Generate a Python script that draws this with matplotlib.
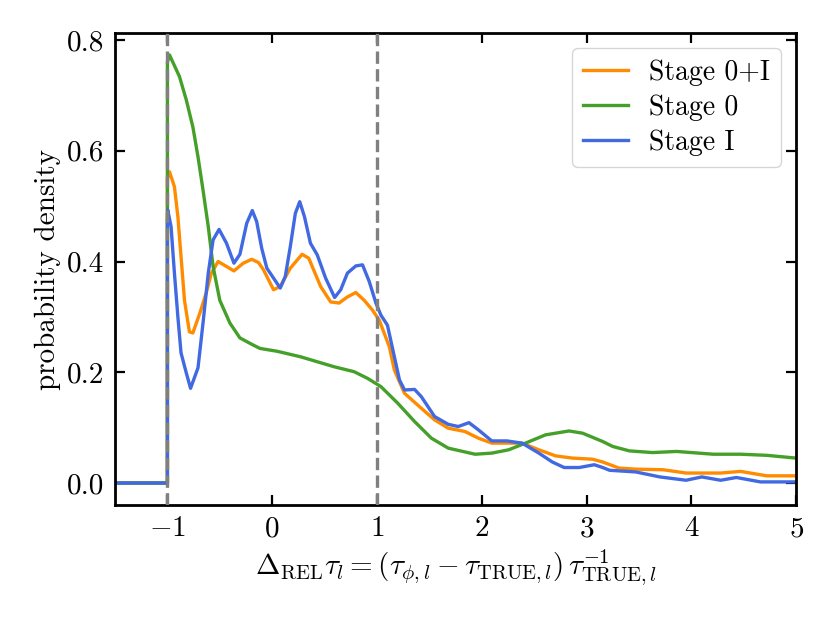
import matplotlib
matplotlib.use("Agg")
import matplotlib.pyplot as plt
import matplotlib.ticker as mticker

plt.rcParams['font.family'] = 'serif'
plt.rcParams['font.serif'] = ['cmr10']
plt.rcParams['mathtext.fontset'] = 'cm'
plt.rcParams['axes.formatter.use_mathtext'] = True
plt.rcParams['font.size'] = 21

labels = ["Stage 0+I", "Stage 0", "Stage I"]
colors = ["#ff8c00", "#45a02a", "#4169e1"]

x_orange = [-1.5, -1.0, -1.0, -0.98, -0.933, -0.9, -0.87, -0.837, -0.79, -0.757, -0.69, -0.63, -0.58,
            -0.516, -0.436, -0.365, -0.276, -0.195, -0.13, -0.083, 0.013, 0.077, 0.173, 0.285, 0.349,
            0.462, 0.558, 0.638, 0.718, 0.798, 0.878, 0.958, 1.022, 1.118, 1.166, 1.263, 1.423, 1.55,
            1.68, 1.84, 1.968, 2.096, 2.257, 2.385, 2.545, 2.705, 2.865, 3.058, 3.154, 3.31, 3.47, 3.73,
            3.95, 4.28, 4.47, 4.72, 5.0]
y_orange = [0.0, 0.0, 0.55, 0.562, 0.535, 0.481, 0.409, 0.330, 0.273, 0.271, 0.307, 0.343, 0.379,
            0.400, 0.391, 0.383, 0.397, 0.404, 0.398, 0.385, 0.349, 0.355, 0.388, 0.413, 0.406,
            0.355, 0.327, 0.325, 0.336, 0.344, 0.330, 0.312, 0.294, 0.246, 0.204, 0.162, 0.135, 0.114,
            0.099, 0.093, 0.081, 0.072, 0.072, 0.072, 0.060, 0.049, 0.045, 0.043, 0.038, 0.027, 0.025, 0.024,
            0.018, 0.018, 0.021, 0.013, 0.013]

x_green = [-1.5, -1.0, -1.0, -0.98, -0.885, -0.82, -0.757, -0.708, -0.66, -0.61, -0.564, -0.5, -0.404,
           -0.308, -0.18, -0.115, 0.045, 0.27, 0.59, 0.782, 0.91, 1.038, 1.199, 1.359, 1.519, 1.68, 1.936,
           2.096, 2.257, 2.417, 2.609, 2.833, 2.962, 3.154, 3.25, 3.41, 3.63, 3.86, 4.21, 4.47, 4.72, 5.0]
y_green = [0.0, 0.0, 0.76, 0.773, 0.734, 0.692, 0.643, 0.589, 0.529, 0.463, 0.391, 0.330, 0.289,
           0.262, 0.249, 0.243, 0.238, 0.228, 0.210, 0.201, 0.189, 0.174, 0.144, 0.111, 0.081, 0.063, 0.052,
           0.054, 0.060, 0.072, 0.087, 0.094, 0.090, 0.075, 0.066, 0.058, 0.055, 0.057, 0.052, 0.052, 0.050, 0.045]

x_blue = [-1.5, -1.0, -1.0, -0.997, -0.965, -0.933, -0.9, -0.87, -0.82, -0.779, -0.708, -0.66, -0.61,
          -0.564, -0.507, -0.436, -0.365, -0.308, -0.243, -0.19, -0.148, -0.1, -0.051, 0.013, 0.077,
          0.125, 0.173, 0.221, 0.263, 0.308, 0.365, 0.43, 0.51, 0.596, 0.654, 0.718, 0.798, 0.862, 0.926,
          0.99, 1.038, 1.1, 1.166, 1.215, 1.263, 1.359, 1.423, 1.55, 1.68, 1.776, 1.878, 1.968, 2.096,
          2.24, 2.385, 2.545, 2.673, 2.786, 2.93, 3.074, 3.154, 3.22, 3.47, 3.7, 3.95, 4.1, 4.28, 4.43,
          4.66, 5.0]
y_blue = [0.0, 0.0, 0.47, 0.493, 0.463, 0.379, 0.300, 0.235, 0.199, 0.171, 0.208, 0.289, 0.379,
          0.439, 0.458, 0.433, 0.397, 0.413, 0.469, 0.492, 0.472, 0.424, 0.388, 0.370, 0.352,
          0.373, 0.427, 0.487, 0.508, 0.481, 0.433, 0.412, 0.370, 0.335, 0.349, 0.379, 0.392, 0.394, 0.364,
          0.325, 0.303, 0.285, 0.228, 0.186, 0.168, 0.169, 0.156, 0.120, 0.106, 0.102, 0.109, 0.096, 0.076,
          0.076, 0.072, 0.054, 0.038, 0.028, 0.028, 0.033, 0.028, 0.023, 0.020, 0.011, 0.005, 0.011, 0.005, 0.010,
          0.002, 0.002]

vlines_x = [-1, 1]
x_ticks = [-1, 0, 1, 2, 3, 4, 5]
y_ticks = [0.0, 0.2, 0.4, 0.6, 0.8]

fig = plt.figure(figsize=(8.31, 6.23), dpi=100)
ax = fig.add_axes([0.1384, 0.1894, 0.8196, 0.7576])

for xs, ys, lab, c in zip([x_orange, x_green, x_blue], [y_orange, y_green, y_blue], labels, colors):
    ax.plot(xs, ys, color=c, lw=2.4, label=lab, solid_joinstyle='round')

for xv in vlines_x:
    ax.axvline(xv, color='grey', ls='--', lw=2.4, zorder=5)

ax.set_xlim(-1.5, 5)
ax.set_ylim(-0.0397, 0.8126)
ax.set_xticks(x_ticks)
ax.set_yticks(y_ticks)
ax.yaxis.set_major_formatter(mticker.FormatStrFormatter('%.1f'))
ax.tick_params(direction='in', top=True, right=True, length=7, width=1.6, labelsize=21, pad=8)
for s in ax.spines.values():
    s.set_linewidth(2.0)

ax.set_xlabel(r'$\Delta_{\mathrm{REL}}\tau_l = (\tau_{\phi,l} - \tau_{\mathrm{TRUE},l})\,\tau_{\mathrm{TRUE},l}^{-1}$', fontsize=21)
ax.set_ylabel('probability density', fontsize=21)

ax.legend(loc='upper right', fontsize=20, handlelength=1.6, borderaxespad=0.55,
          handletextpad=0.75, labelspacing=0.3, borderpad=0.4)

fig.savefig('out.png', dpi=100)
